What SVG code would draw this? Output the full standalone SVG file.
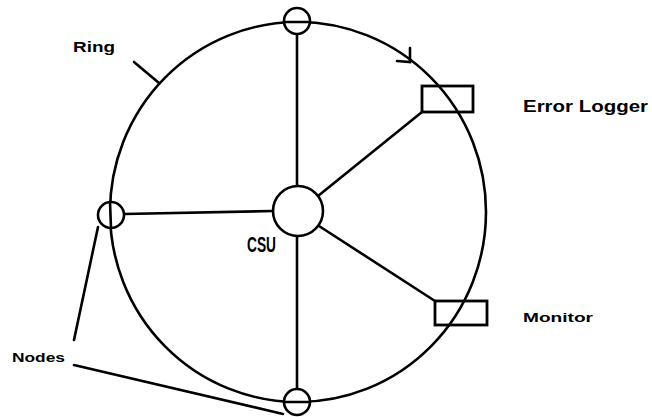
<svg xmlns="http://www.w3.org/2000/svg" width="652" height="417" viewBox="0 0 652 417">
<style>
.ln{stroke:#000;stroke-width:2.6;fill:none;stroke-linecap:round}
.nd{stroke:#000;stroke-width:2.6;fill:#fff}
.bx{stroke:#000;stroke-width:2.8;fill:none}
.lb{font-family:"Liberation Sans",Arial,sans-serif;font-weight:bold;fill:#000}
</style>
<rect width="652" height="417" fill="#fff"/>
<g id="connectors">
<line class="ln" x1="297" y1="34" x2="297" y2="186"/>
<line class="ln" x1="297" y1="236" x2="297" y2="389"/>
<line class="ln" x1="124" y1="214" x2="273" y2="211"/>
<line class="ln" x1="318" y1="196" x2="422" y2="112"/>
<line class="ln" x1="319" y1="226" x2="435" y2="301"/>
<line class="ln" x1="134" y1="62" x2="159" y2="83"/>
<line class="ln" x1="74" y1="340" x2="98" y2="227"/>
<line class="ln" x1="74" y1="365" x2="283" y2="414"/>
<path class="ln" d="M410,48 L410,62 L397,61"/>
</g>
<g id="ring">
<ellipse class="ln" cx="298" cy="212" rx="188" ry="190"/>
</g>
<g id="node-top"><circle class="nd" cx="297" cy="21" r="13"/><line class="ln" x1="284" y1="22" x2="310" y2="22"/></g>
<g id="node-left"><circle class="nd" cx="111" cy="215" r="13"/><line class="ln" x1="110" y1="202" x2="111" y2="228"/></g>
<g id="node-bottom"><circle class="nd" cx="297" cy="402" r="13"/><line class="ln" x1="284" y1="402" x2="310" y2="402"/></g>
<g id="csu"><circle class="nd" cx="298" cy="211" r="25"/><text x="247" y="252" font-family="Liberation Sans,Arial,sans-serif" font-weight="bold" font-size="22" textLength="29" lengthAdjust="spacingAndGlyphs">CSU</text></g>
<g id="error-logger"><rect class="bx" x="422" y="86" width="51" height="26"/><text class="lb" x="523" y="112" font-size="17" textLength="125" lengthAdjust="spacingAndGlyphs">Error Logger</text></g>
<g id="monitor"><rect class="bx" x="435" y="301" width="52" height="24"/><text class="lb" x="523" y="322" font-size="13" textLength="70" lengthAdjust="spacingAndGlyphs">Monitor</text></g>
<g id="labels">
<text class="lb" x="73" y="52" font-size="14" textLength="42" lengthAdjust="spacingAndGlyphs">Ring</text>
<text class="lb" x="12" y="362" font-size="13" textLength="53" lengthAdjust="spacingAndGlyphs">Nodes</text>
</g>
</svg>
